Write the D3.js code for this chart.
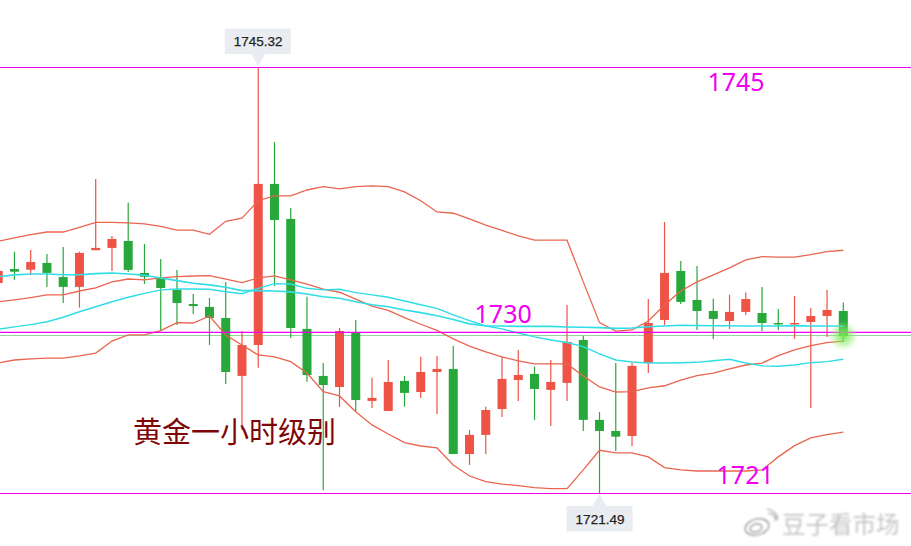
<!DOCTYPE html>
<html>
<head>
<meta charset="utf-8">
<title>黄金一小时级别</title>
<script src="https://cdn.jsdelivr.net/npm/d3@7"></script>
<style>
	html, body { margin: 0; padding: 0; background: #fff; overflow: hidden; }
</style>
</head>
<body>
<svg id="chart" width="911" height="546"></svg>
<script>
// GLOBAL CONSTANTS
// - candles, one hourly bar per index
const opens = [1733.24,1734.02,1733.98,1734.36,1733.57,1733.02,1735.07,1735.20,1735.59,1733.80,1733.52,1732.85,1732.06,1731.90,1731.28,1728.04,1729.77,1738.78,1736.82,1730.67,1728.04,1727.42,1730.46,1726.64,1726.08,1727.76,1727.14,1728.26,1728.43,1723.67,1724.74,1726.19,1727.81,1728.15,1727.26,1727.65,1730.05,1725.58,1724.96,1724.68,1728.76,1731.17,1733.91,1732.29,1731.67,1731.11,1731.62,1731.56,1731.00,1730.95,1731.06,1731.39,1731.67];
const highs = [1733.91,1734.99,1735.08,1734.86,1735.25,1734.99,1739.06,1735.87,1737.73,1735.42,1734.58,1733.97,1732.62,1732.40,1733.30,1730.55,1745.32,1741.13,1737.43,1732.47,1728.76,1730.72,1731.17,1727.93,1728.93,1728.04,1729.11,1729.16,1729.71,1725.02,1726.32,1729.10,1729.49,1728.56,1728.93,1732.01,1730.27,1726.02,1728.76,1728.76,1732.34,1736.65,1734.47,1734.19,1732.36,1732.58,1732.70,1733.02,1731.78,1732.51,1731.84,1732.85,1732.14];
const lows = [1733.24,1733.41,1733.69,1733.02,1732.12,1731.86,1735.07,1733.91,1733.85,1733.18,1730.55,1730.89,1731.50,1729.77,1727.59,1725.02,1728.50,1733.07,1730.16,1727.72,1721.64,1726.30,1726.04,1726.25,1726.08,1726.32,1726.81,1725.91,1723.67,1723.06,1723.67,1725.74,1726.64,1725.58,1725.24,1726.64,1724.96,1721.49,1723.84,1724.12,1728.20,1730.89,1732.06,1730.61,1730.11,1730.67,1731.45,1730.55,1730.61,1730.11,1726.25,1730.22,1729.94];
const closes = [1733.91,1733.87,1734.41,1733.80,1733.02,1734.92,1735.20,1735.70,1733.97,1733.59,1732.96,1732.12,1731.95,1731.28,1728.26,1729.77,1738.78,1736.76,1730.72,1728.09,1727.53,1730.55,1726.69,1726.81,1727.70,1727.09,1728.26,1728.43,1723.67,1724.74,1726.13,1727.87,1728.09,1727.31,1727.70,1729.94,1725.58,1724.96,1724.64,1728.60,1731.00,1733.80,1732.18,1731.67,1731.23,1731.62,1732.34,1731.00,1730.95,1731.00,1731.39,1731.73,1730.27];
// - bollinger bands
const upperBand = [1735.57,1735.76,1735.94,1736.09,1736.09,1736.35,1736.63,1736.63,1736.60,1736.54,1736.41,1736.19,1736.19,1735.96,1736.69,1736.86,1737.84,1738.11,1738.11,1738.44,1738.63,1738.50,1738.63,1738.67,1738.63,1738.33,1737.84,1737.21,1737.14,1736.82,1736.48,1736.18,1735.87,1735.64,1735.64,1735.63,1733.30,1731.02,1730.55,1730.61,1731.11,1732.01,1732.79,1733.30,1733.69,1734.08,1734.53,1734.71,1734.69,1734.69,1734.82,1734.99,1735.07];
const midBand = [1732.18,1732.29,1732.42,1732.57,1732.57,1732.79,1732.96,1733.30,1733.46,1733.41,1733.52,1733.59,1733.63,1733.65,1733.46,1733.26,1733.52,1733.63,1733.41,1733.17,1732.89,1732.72,1732.33,1731.95,1731.71,1731.30,1730.93,1730.59,1730.11,1729.71,1729.38,1729.10,1728.88,1728.71,1728.71,1728.71,1728.04,1727.42,1727.14,1727.16,1727.37,1727.49,1727.81,1728.05,1728.20,1728.43,1728.65,1728.76,1729.17,1729.49,1729.73,1729.90,1729.98];
const lowerBand = [1728.76,1728.93,1728.99,1729.04,1729.04,1729.16,1729.32,1729.99,1730.33,1730.33,1730.57,1731.02,1731.00,1731.39,1730.33,1729.77,1729.21,1729.10,1728.84,1728.20,1727.16,1726.92,1726.04,1725.30,1724.79,1724.31,1724.12,1724.01,1723.06,1722.44,1722.12,1721.99,1721.90,1721.79,1721.73,1721.73,1722.78,1723.88,1723.73,1723.73,1723.51,1722.91,1722.78,1722.72,1722.72,1722.72,1722.72,1722.78,1723.51,1724.14,1724.57,1724.75,1724.90];
// - the two cyan moving averages
const maFast = [1733.59,1733.69,1733.74,1733.74,1733.70,1733.70,1733.76,1733.80,1733.74,1733.67,1733.52,1733.37,1733.22,1733.13,1733.00,1732.81,1732.81,1732.79,1732.74,1732.62,1732.47,1732.38,1732.19,1732.02,1731.91,1731.73,1731.58,1731.41,1731.19,1730.95,1730.85,1730.83,1730.81,1730.81,1730.81,1730.78,1730.76,1730.74,1730.70,1730.72,1730.79,1730.83,1730.87,1730.86,1730.85,1730.85,1730.83,1730.83,1730.83,1730.85,1730.83,1730.83,1730.82];
const maSlow = [1730.65,1730.78,1730.91,1731.07,1731.32,1731.63,1731.91,1732.19,1732.44,1732.66,1732.85,1732.90,1732.90,1732.89,1732.75,1732.64,1732.94,1733.20,1733.18,1732.94,1732.85,1732.89,1732.70,1732.57,1732.44,1732.23,1732.02,1731.82,1731.45,1731.13,1730.83,1730.67,1730.44,1730.22,1730.05,1729.91,1729.68,1729.27,1728.93,1728.82,1728.76,1728.76,1728.78,1728.80,1728.89,1728.97,1728.76,1728.60,1728.58,1728.65,1728.78,1728.84,1728.97];
// - hand drawn levels and labels
const magentaLevels = [1745.32, 1730.50, 1721.49];
const lastPriceLevel = [1730.33];
const levelLabels = ['1745', '1730', '1721'];
const levelLabelPrices = [1743.98, 1731.0, 1721.99];
const levelLabelIndex = [45.4, 31.07, 45.96];
const titleText = '黄金一小时级别';
const watermarkText = '豆子看市场';
const highLabel = 1745.32;
const lowLabel = 1721.49;

// - svg-related
const svg = d3.select('#chart');
const chartWidth = 911;
const bodyWidth = 9; // in px
const redColor = '#ee5346';
const greenColor = '#28a83a';
const bandColor = '#e9654f';
const cyanColor = '#2fdde6';
const magentaColor = '#f000f0';

const indexes = d3.range(opens.length);
const xScale = d3.scaleLinear().domain([0, 52]).range([-1.8, 843.3]);
const yScale = d3.scaleLinear().domain([lowLabel, highLabel]).range([493, 67]);

function initialize(){
	drawLastPriceLine();
	drawCandles();
	drawLine(upperBand, bandColor, 1.3);
	drawLine(midBand, bandColor, 1.3);
	drawLine(lowerBand, bandColor, 1.3);
	drawLine(maFast, cyanColor, 1.6);
	drawLine(maSlow, cyanColor, 1.4);
	drawLevels();
	drawGlow();
	drawPriceTag(16, highLabel, 'up');
	drawPriceTag(37, lowLabel, 'down');
	drawTexts();
	drawWatermark();
}

// thin green line of the last price, sits under the candles
function drawLastPriceLine(){
	svg.selectAll('.last-price')
		.data(lastPriceLevel)
		.enter()
		.append('line')
			.attr('class', 'last-price')
			.attr('x1', 0)
			.attr('x2', chartWidth)
			.attr('y1', d => yScale(d) + 0.5)
			.attr('y2', d => yScale(d) + 0.5)
			.attr('stroke', '#93d6a0')
			.attr('stroke-width', 1)
			.attr('shape-rendering', 'crispEdges');
}

// wick and body for every bar
function drawCandles(){
	const candle = svg.selectAll('.candle')
		.data(indexes)
		.enter()
		.append('g')
			.attr('class', 'candle');

	candle.append('line')
		.attr('x1', i => xScale(i))
		.attr('x2', i => xScale(i))
		.attr('y1', i => yScale(highs[i]))
		.attr('y2', i => yScale(lows[i]))
		.attr('stroke', i => candleColor(i))
		.attr('stroke-width', 1.2);

	candle.append('rect')
		.attr('x', i => xScale(i) - bodyWidth / 2)
		.attr('y', i => yScale(Math.max(opens[i], closes[i])))
		.attr('width', bodyWidth)
		.attr('height', i => Math.max(1.5, Math.abs(yScale(opens[i]) - yScale(closes[i]))))
		.attr('fill', i => candleColor(i));
}

function candleColor(i){
	return closes[i] >= opens[i] ? redColor : greenColor;
}

function drawLine(values, color, width){
	const line = d3.line()
		.x((d, i) => xScale(i))
		.y(d => yScale(d));

	svg.append('path')
		.attr('d', line(values))
		.attr('fill', 'none')
		.attr('stroke', color)
		.attr('stroke-width', width);
}

function drawLevels(){
	svg.selectAll('.level')
		.data(magentaLevels)
		.enter()
		.append('line')
			.attr('class', 'level')
			.attr('x1', 0)
			.attr('x2', chartWidth)
			.attr('y1', d => yScale(d) + 0.5)
			.attr('y2', d => yScale(d) + 0.5)
			.attr('stroke', magentaColor)
			.attr('stroke-width', 1.2);
}

// green glow round the last bar
function drawGlow(){
	const gradient = svg.append('defs')
		.append('radialGradient')
			.attr('id', 'last-glow');
	gradient.append('stop').attr('offset', '0%').attr('stop-color', '#6fe84a').attr('stop-opacity', 0.95);
	gradient.append('stop').attr('offset', '55%').attr('stop-color', '#8cec6c').attr('stop-opacity', 0.5);
	gradient.append('stop').attr('offset', '100%').attr('stop-color', '#a8f090').attr('stop-opacity', 0);

	svg.append('circle')
		.attr('cx', xScale(52))
		.attr('cy', yScale(closes[52]))
		.attr('r', 15)
		.attr('fill', 'url(#last-glow)');
}

// grey tag with a small pointer, above the high or below the low
function drawPriceTag(index, price, side){
	const tagX = xScale(index);
	const tagY = yScale(price);
	const dir = side === 'up' ? -1 : 1;
	const boxNear = tagY + dir * 13;
	const boxFar = boxNear + dir * 25.5;

	svg.append('rect')
		.attr('x', tagX - 33.5 + (side === 'up' ? 0 : 0.5))
		.attr('y', Math.min(boxNear, boxFar))
		.attr('width', 66)
		.attr('height', 25.5)
		.attr('fill', '#e9edf1');

	svg.append('path')
		.attr('d', 'M' + (tagX - 7) + ',' + boxNear + 'L' + tagX + ',' + (tagY + dir) + 'L' + (tagX + 7) + ',' + boxNear + 'Z')
		.attr('fill', '#e9edf1');

	svg.append('text')
		.attr('x', tagX + (side === 'up' ? 0 : 0.5))
		.attr('y', (boxNear + boxFar) / 2 + 5)
		.attr('text-anchor', 'middle')
		.attr('font-family', '"Liberation Sans", Arial, sans-serif')
		.attr('font-size', '13.5px')
		.attr('fill', '#222')
		.attr('stroke', '#222')
		.attr('stroke-width', 0.25)
		.text(price.toFixed(2));
}

function drawTexts(){
	svg.selectAll('.level-label')
		.data(levelLabels)
		.enter()
		.append('text')
			.attr('class', 'level-label')
			.attr('x', (d, i) => xScale(levelLabelIndex[i]))
			.attr('y', (d, i) => yScale(levelLabelPrices[i]))
			.attr('text-anchor', 'middle')
			.attr('font-family', '"Noto Sans", sans-serif')
			.attr('font-size', '25px')
			.attr('fill', magentaColor)
			.text(d => d);

	svg.append('text')
		.attr('x', 133)
		.attr('y', 443)
		.attr('font-family', '"Noto Sans CJK SC", sans-serif')
		.attr('font-size', '29px')
		.attr('fill', '#7f0606')
		.text(titleText);
}

// weibo style mark, bottom right
function drawWatermark(){
	const blur = svg.select('defs')
		.append('filter')
			.attr('id', 'soft');
	blur.append('feGaussianBlur').attr('stdDeviation', 0.8);

	const mark = svg.append('g')
		.attr('filter', 'url(#soft)')
		.attr('fill', 'none')
		.attr('stroke', '#8f8f8f')
		.attr('stroke-width', 1.2);

	mark.append('ellipse').attr('cx', 757).attr('cy', 527).attr('rx', 12).attr('ry', 8).attr('transform', 'rotate(-15 757 527)');
	mark.append('ellipse').attr('cx', 756).attr('cy', 528).attr('rx', 6).attr('ry', 4).attr('transform', 'rotate(-15 756 528)');
	mark.append('path').attr('d', 'M768,513 A8,8 0 0 1 776,521');
	mark.append('path').attr('d', 'M767,509 A13,13 0 0 1 778,519');

	svg.append('text')
		.attr('x', 782)
		.attr('y', 533)
		.attr('filter', 'url(#soft)')
		.attr('font-family', '"Noto Sans CJK SC", sans-serif')
		.attr('font-size', '23.5px')
		.attr('fill', '#c4c4c4')
		.text(watermarkText);
}

initialize();
</script>
</body>
</html>
